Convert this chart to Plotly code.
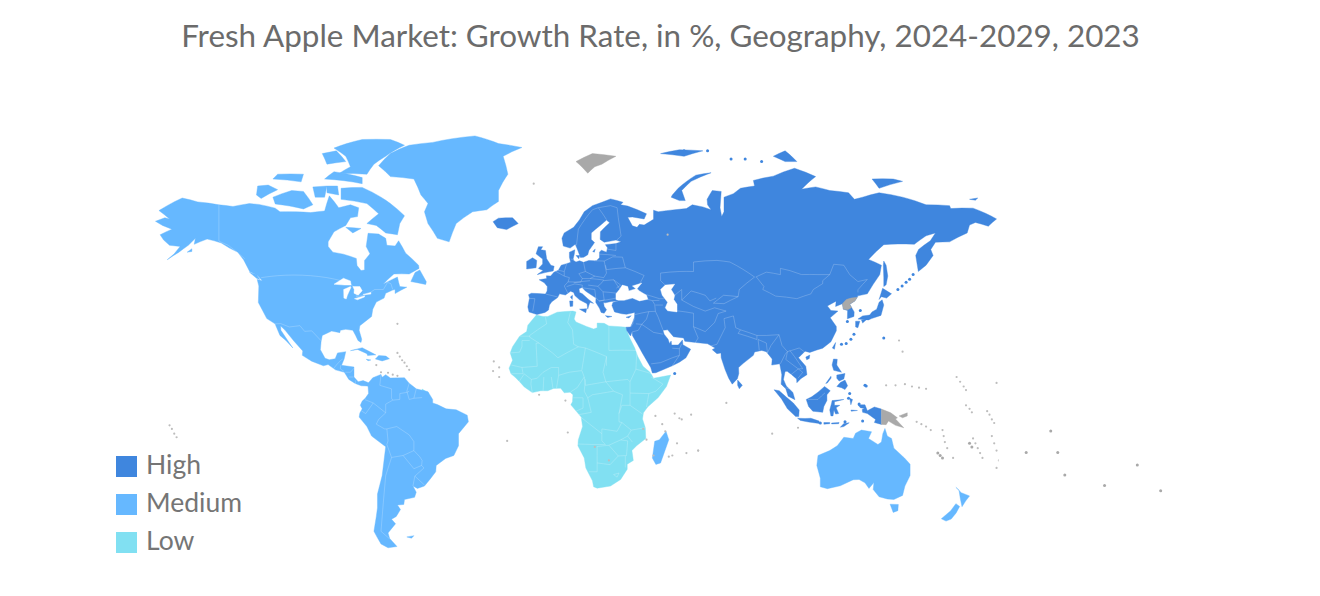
import plotly.graph_objects as go

TITLE = "Fresh Apple Market: Growth Rate, in %, Geography, 2024-2029, 2023"
legend_labels = ["High", "Medium", "Low"]
HIGH = "#3F86DE"
MEDIUM = "#66B8FF"
LOW = "#81E0F2"
NO_DATA = "#A9A9A9"
legend_colors = [HIGH, MEDIUM, LOW]

# the offline sandbox has no world topojson, so outlines are kept here as lon/lat
eurasia = [(-5.6,36),(-9,37),(-9.5,38.8),(-8.8,42),(-9.2,43.2),(-8,43.7),(-2,43.4),(-1.3,44.5),(-1.2,46),(-2.5,47.3),(-4.7,48.3),(-1.5,48.7),(-1.6,49.6),(0.2,49.5),(1.6,50.8),(3.5,51.4),(4.7,53),(7,53.5),(8.7,53.9),(8.2,55.5),(8.2,57),(10.5,57.7),(10.3,56.5),(9.8,55),(10,54.5),(11,54),(12.5,54.4),(14.2,53.9),(16.5,54.5),(18.7,54.4),(19.8,54.5),(21,55.3),(21,57),(21.8,57.6),(24,57),(24.4,58.3),(23.5,59.2),(28,59.5),(30.2,60),(28,60.5),(23,59.9),(21.3,60.7),(21.4,62.8),(25.3,65.2),(24,65.9),(21.3,64.5),(17.5,62.5),(17.5,60.7),(18.9,59.8),(16.5,57.5),(16,56.2),(14.3,55.5),(12.9,55.4),(11.5,58),(10.7,59.3),(8.5,58.2),(5.6,58.8),(5,61),(6,62.5),(10,64),(12.5,66),(14.5,68),(18,69.5),(22,70.3),(25.7,71.1),(31,70.3),(30,69.7),(33,69.4),(41,67.5),(40,66.2),(35,66.7),(33,66.6),(35,64.4),(37,64),(38,64.8),(40,64.6),(44,66.1),(44,68.4),(46,68),(53,68.5),(58,68.8),(60.5,69.7),(65,69.2),(68.5,68.5),(67,69.7),(66.8,71),(69,73),(72.8,72.8),(72.3,69),(73,66.8),(74,68),(74,71.5),(78,72.3),(81,73.5),(87,74),(86.5,75.2),(95,76.1),(104,77.7),(113,76),(107,73.3),(113,73.8),(119,73),(127,72.5),(129.5,71),(133,71.5),(140,72.5),(150,71.5),(160,69.7),(170,69.5),(170.5,68.8),(180,68.9),(190,66.2),(186.5,64.3),(181,65.3),(178.5,64.6),(177.5,62.5),(170,60),(164,59.9),(162,57.8),(163,56),(160,53),(156.7,51),(155.6,56),(156.8,57.8),(161.8,60.3),(164,62.5),(160,61.7),(155,59.3),(148,59.4),(142,59.2),(135.5,54.8),(141,53),(140.3,50),(135,43.5),(131,42.8),(130.7,42.3),(129.7,41),(127.5,39.8),(129.4,37),(129.3,35.3),(126.5,34.4),(126.6,37.5),(124.8,38),(124.4,40),(121.5,39),(121.7,40.9),(118,39.2),(119.5,37.5),(122.5,37.3),(119.2,34.8),(121.8,31.5),(121.8,29.8),(119.5,25.5),(116,22.9),(113.5,22.2),(110.5,21.2),(108.5,21.7),(105.7,19),(108.8,15.5),(109.3,12),(106.8,10.4),(105,8.6),(104.9,10.2),(102.8,12),(100.9,13.4),(100,13.3),(99.3,10),(100.5,7.2),(103.3,4.5),(104.2,1.4),(101.3,2.9),(100.3,6),(98.3,8),(98.6,12),(97.7,16.5),(94.3,16),(94.5,18.5),(92,21.5),(90,22),(87,21.4),(86.5,20),(82.2,16.7),(80.2,15),(80.3,12.5),(79.7,10.3),(77.5,8),(76,10.5),(74.5,14),(72.8,19),(72.7,21),(71,20.7),(69,22.3),(70.2,23),(67,24.7),(62,25.2),(57.3,25.7),(56.8,27),(52.5,27.5),(50,30.2),(48,30),(48.5,28.5),(50.2,26.5),(50.8,24.8),(51.5,25.8),(51.7,24.2),(54.5,24.2),(56.3,26.2),(56.5,24.3),(59.8,22.5),(57.8,19),(55,17.2),(52,15.7),(45,12.8),(43.5,12.7),(42.8,15),(39.2,21),(35,28),(34.9,29.5),(34.2,27.8),(32.6,29.9),(32.3,31.2),(34.2,31.3),(35,32.8),(35.9,35),(36,36.8),(32.5,36.1),(30.5,36.3),(27.4,37),(26.3,39.3),(26.7,40.4),(29,41),(26,40.8),(23.5,40.3),(22.7,40.4),(23,39),(24,37.8),(23,36.5),(21.7,36.8),(21,38.3),(19.4,40.5),(19.5,42),(15,44.5),(13.6,45.7),(12.3,45.3),(12.5,44),(13.7,43.5),(16,41.8),(18.5,40.1),(17,40.5),(16.5,39.5),(16,38),(15.7,40),(12.5,41.4),(10.5,42.9),(10,44),(8.7,44.4),(6.5,43.1),(4,43.5),(3.2,42.2),(0.7,40.7),(-0.3,39.5),(-0.7,37.7),(-2.2,36.8)]
great_britain = [(-5.5,50),(1.3,51.2),(1.7,52.7),(0.3,53),(-1.5,55),(-2,57.5),(-4,57.7),(-3.2,58.6),(-5,58.6),(-6,56.5),(-3.2,54.9),(-3.2,53.4),(-5,52),(-3,51.3)]
ireland = [(-6,52.2),(-10,51.8),(-10,54.2),(-7.5,55.3),(-5.7,54.5)]
iceland = [(-22.5,63.9),(-24.3,65.5),(-22,66.4),(-16,66.5),(-13.6,65),(-18.5,63.4)]
sicily = [(12.5,38),(15.5,38.2),(15.2,36.7)]
sardinia = [(8.3,41),(9.7,41),(9.6,39.1),(8.5,39)]
corsica = [(8.6,42.4),(9.5,43),(9.4,41.5)]
crete = [(23.5,35.6),(26.3,35.3),(24.5,34.9)]
cyprus = [(32.3,35),(34.5,35.6),(33.5,34.7)]
zealand = [(11,56),(12.6,56),(12.2,55)]
gotland = [(18.1,57.2),(19.2,57.9),(18.8,57)]
novaya_zemlya = [(51.5,71.5),(55,70.7),(57.5,70.7),(56,73),(60,75),(68.5,76.8),(62,76.3),(54.5,73.5),(52,72)]
severnaya = [(95,80),(100,79),(105,79),(100,81)]
franz_josef = [(47,80.5),(55,81.2),(65,81),(57,80)]
new_siberian = [(137,75.5),(146,75.5),(150,75),(140,73.5)]
wrangel = [(178.5,71),(182,71.3),(181,70.8)]
sakhalin = [(142,54.3),(143,53),(143.7,49.5),(143,46.6),(142,46),(142,49),(141.8,53)]
hokkaido = [(140,41.5),(141.5,45.4),(145.3,43.5),(143.2,42),(141,42.5)]
honshu = [(131,34.3),(135.5,34),(136.8,34.5),(140.8,35.7),(142,39.5),(141.3,41.4),(140,40.5),(139,38),(137,37),(136,35.8),(133,35.5)]
kyushu = [(130,33.5),(131.8,33.5),(131,31),(130,31.3)]
shikoku = [(132.5,34),(134.7,34.2),(133,32.8)]
taiwan = [(121.5,25.2),(121,22.5),(120.1,23)]
hainan = [(108.8,19.3),(110.5,20.1),(110.3,18.7),(109.2,18.2)]
sri_lanka = [(79.8,9.7),(81.8,7.5),(80.5,6),(79.8,7.5)]
sumatra = [(95.3,5.6),(97.5,5.2),(100.5,2.5),(103.5,0),(106,-3),(105.8,-5.8),(104.5,-5.8),(101,-2.5),(98.5,1.7)]
java = [(105.3,-6.5),(108.5,-6.6),(111,-6.5),(114.5,-7.7),(114.5,-8.7),(110,-8.1),(106.5,-7.4)]
borneo = [(109,1.5),(111.3,2.6),(114,4.6),(116.8,7),(119.2,5.2),(117.8,3.5),(117.8,1),(116.5,-1.5),(116,-4),(111.8,-3.5),(110,-1.5)]
sulawesi = [(120,1),(125,1.5),(121,0.5),(121,-1),(123.3,-1),(121.7,-2),(122.8,-4.5),(121.5,-4.7),(120.8,-3),(120.4,-5.5),(119.5,-5.5),(119,-3),(119.8,0)]
luzon = [(120.6,18.5),(122.2,18.4),(122,16),(124,13),(120.7,13.8),(120,16)]
mindanao = [(122,7),(123.5,8.7),(125.5,9.7),(126.6,7.3),(125.5,5.7),(124,6.5)]
visayas = [(122,11.8),(125.5,12.5),(125,10.2),(123,9.3),(122,10.5)]
palawan = [(117.3,8.3),(119.5,11.3),(119.6,10.6),(118,8.5)]
halmahera = [(127.5,2),(128.7,1.5),(128,-0.8)]
timor = [(123.5,-10.3),(125,-8.7),(127.3,-8.4),(125,-10)]
flores = [(119.8,-8.5),(123,-8.3),(122.8,-8.8),(119.8,-8.9)]
sumbawa = [(116.5,-8.3),(119,-8.3),(119,-8.8),(116.5,-9)]
seram = [(128,-3),(130.8,-3.2),(128.2,-3.5)]
west_papua = [(131,-0.8),(134,-0.8),(135,-3.3),(138,-1.7),(141,-2.6),(141,-9.1),(138,-8.3),(138.5,-7),(135,-4.5),(133,-4),(132.8,-2.8),(133.8,-2.4),(132,-2)]

north_america = [(-168,65.6),(-164,66.5),(-162,66.2),(-166.5,68.3),(-163,69.5),(-156.6,71.3),(-150,70.4),(-141,69.7),(-135,69.3),(-128,70),(-124,69.8),(-117,68.9),(-115,68),(-108,68),(-102,67.8),(-96,68.2),(-94,71.8),(-90,69),(-85,69.7),(-81.5,69),(-82,66.8),(-85,66.5),(-87,64.5),(-92,62.8),(-94.5,60),(-94.5,58.7),(-92.5,57),(-88,56.4),(-82.5,55.1),(-82.2,52.9),(-80.5,51.3),(-79,51.5),(-79,54.5),(-76.7,56.5),(-78.3,58.7),(-77.5,62.4),(-73,62.2),(-70,61),(-69.5,59),(-66,58.8),(-64.5,60.3),(-61.5,56.7),(-56,53),(-55.8,52),(-60,50.2),(-66.5,50.2),(-69,48.5),(-71,46.9),(-65,49.2),(-64.5,47.5),(-64,46),(-61,45.8),(-66,43.6),(-66,45),(-67,44.8),(-70,43.7),(-70.7,42),(-74,40.6),(-75.5,38),(-76,35.3),(-78,33.9),(-81,31.8),(-81.3,30),(-80.2,26.5),(-80.5,25.2),(-81.8,26),(-82.8,28),(-84,30),(-87,30.4),(-89.3,30),(-89.5,29.1),(-93,29.7),(-97,28),(-97.5,25.5),(-97.8,22.3),(-95.8,18.8),(-94,18.2),(-91.5,18.6),(-90.5,21),(-87,21.5),(-87.7,18.5),(-88.8,15.9),(-83.5,15.2),(-83.5,11),(-81.7,9),(-79.6,9.5),(-77.3,8.6),(-77.9,7.2),(-80.4,7.3),(-83,8.3),(-85.7,10),(-87.6,13),(-91.4,14),(-94.5,16.2),(-96.5,15.7),(-101.5,17.6),(-105.5,20),(-105.3,21.8),(-109,25.7),(-112.8,30),(-114.7,31.7),(-114.6,30),(-111,25),(-109.5,23),(-112.5,26),(-115,28),(-117.1,32.5),(-120.6,34.5),(-122.4,37.5),(-124.2,40.4),(-124,46.2),(-124.7,48.4),(-122.5,48),(-125,50),(-127.9,51),(-130.5,54.7),(-133,57),(-136.5,58.2),(-140,59.7),(-146,60.8),(-151.5,59.3),(-151,61),(-154,59),(-158,57),(-163,54.7),(-160,56.5),(-157.5,58.7),(-162,59),(-164.5,60.5),(-166,62),(-161,63.5),(-165,64.5)]
greenland = [(-73,78.2),(-68,80.5),(-60,82),(-50,82.5),(-32,83.6),(-22,82.3),(-12,81.6),(-20,80),(-18,76.5),(-22,73),(-22,70.5),(-27,68.5),(-33,68),(-40,65),(-43,60),(-48,61),(-52,65),(-53.5,68),(-52,70),(-55,72),(-58,75.5),(-68,76)]
baffin = [(-80,73.7),(-72,71.5),(-68,70),(-62,67),(-64,65),(-65,62),(-70,62.5),(-74,64.5),(-78,65),(-73,67.5),(-78,70),(-89,71),(-89,73.5)]
victoria = [(-117,69.9),(-105,68.7),(-101,69.7),(-105,72.8),(-110,73),(-118,71.5)]
banks = [(-125,72),(-123,71.2),(-116,73.2),(-120,74.2),(-124.5,74)]
melville = [(-118,75.5),(-106,74.9),(-105,76.5),(-116,76.5)]
prince_wales = [(-100,71.5),(-96,71.5),(-95,74),(-101,73.8)]
somerset = [(-95,72.5),(-90,72),(-90.5,74),(-95,74)]
devon = [(-96,75.5),(-80,74.5),(-80,75.8),(-92,77)]
ellesmere = [(-90,76.6),(-78,76.5),(-75,78.5),(-70,80),(-62,82),(-68,83),(-80,83),(-92,81.5),(-87,80),(-85,78)]
axel = [(-95,78.5),(-87,79),(-91,81),(-97,80.5)]
southampton = [(-87,64),(-80.5,63.7),(-84,62.5)]
newfoundland = [(-59.3,47.7),(-53,46.7),(-52.7,47.6),(-55.5,51.5),(-57.5,50.7)]
vancouver = [(-128,50.8),(-125,48.8),(-123.5,48.4),(-125,50)]
kodiak = [(-154.5,57),(-152.5,58),(-152.5,57.2)]
cuba = [(-85,21.9),(-80,23.1),(-74.2,20.2),(-77.7,19.9),(-78,20.7),(-82,22.4)]
hispaniola = [(-74.4,18.5),(-73,19.9),(-69.9,19.7),(-68.4,18.6),(-71.5,17.7)]
jamaica = [(-78.3,18.4),(-76.3,18.1),(-77.5,17.8)]
south_america = [(-77.3,8.6),(-75.5,10.7),(-72,12.1),(-71.5,10.9),(-70,12),(-68,10.6),(-62,10.7),(-60,8.4),(-57,6),(-52,4.8),(-50,1.5),(-50,0),(-48,-0.7),(-44.3,-2.5),(-40,-2.9),(-35.3,-5.2),(-34.8,-8),(-39,-13),(-39,-18),(-41,-22),(-44.5,-23.2),(-48.5,-26),(-48.7,-28.5),(-53.5,-34),(-56.5,-34.9),(-58.4,-34),(-57,-36.3),(-57.7,-38.2),(-62,-39),(-62.3,-40.8),(-65,-41),(-63.7,-42.6),(-65.5,-45),(-67.5,-46),(-65.8,-47.5),(-69,-50.5),(-68.3,-52.3),(-65.2,-54.8),(-69,-55.2),(-72,-54),(-75,-50),(-74,-45),(-73.5,-42),(-73.5,-37),(-71.5,-30),(-70,-18.4),(-76,-14),(-78,-10),(-81.3,-6),(-81,-4.3),(-80,-2.5),(-80.8,-1),(-80,0.8),(-78.7,2),(-77.3,4),(-77.5,7),(-77.9,7.2)]
falklands = [(-61,-51.8),(-58,-51.4),(-59,-52.2)]
australia = [(114,-22),(113.5,-26),(115,-31),(115,-34.3),(118,-35),(123.5,-33.9),(129,-31.6),(131.5,-31.5),(134,-32.8),(135.7,-34.9),(137.8,-32.7),(137.5,-35.3),(140,-38),(143.5,-38.8),(146.3,-39),(150,-37.5),(151,-34),(153.2,-30),(153.2,-25.5),(150.8,-23),(146.3,-19),(145.3,-15),(143.5,-14),(142.5,-10.8),(141.6,-13),(141,-16.5),(139.5,-17.5),(135.5,-15),(136.8,-12.2),(132.5,-11.5),(130,-12.8),(129,-15),(125,-14.5),(122.2,-18),(119,-20)]
tasmania = [(144.7,-40.7),(148.2,-40.8),(148,-43),(146,-43.6)]
nz_north = [(172.7,-34.5),(175,-36.5),(178.5,-37.7),(176.9,-39.5),(175.3,-41.6),(174.6,-38.8),(174,-35.5)]
nz_south = [(172.7,-40.5),(174.3,-41.5),(172.8,-43.8),(170.7,-45.9),(168.5,-46.6),(166.5,-45.8),(170.5,-43)]
madagascar = [(49.3,-12),(50.5,-15.5),(47,-25),(45,-25.6),(43.5,-23),(44.5,-16.2),(46.5,-15.5)]

africa = [(-5.9,35.8),(-9.5,32),(-10,29.5),(-13,27.7),(-16,23.5),(-17,21),(-16,18),(-17.5,14.7),(-16.7,12.4),(-15,11),(-13,9),(-11,6.8),(-7.6,4.4),(-4,5.2),(-1,5.2),(1.5,6.2),(4.5,6.3),(6,4.3),(8.5,4.6),(9.7,3.5),(9.5,0.5),(8.8,-0.8),(11.5,-4),(13.2,-6),(13.8,-10),(12,-15.5),(11.8,-18),(14.5,-23),(15.2,-27),(18,-32),(18.5,-34.3),(20,-34.8),(25.7,-34),(30,-31.5),(32.8,-27.5),(32.8,-25.5),(35.4,-24),(34.8,-20),(36.8,-18),(40.7,-15),(40.5,-10.5),(39.3,-6.8),(39.7,-4.2),(41.5,-1.7),(46,2.3),(49.5,7),(51.3,11.8),(44,10.5),(43.3,11.7),(42.5,13),(39.5,15.5),(37.3,19.5),(36,23),(34,26.8),(32.6,29.9),(32.3,31.2),(30,31.4),(25,31.7),(23,32.7),(20,32.8),(20,31),(18.5,30.5),(15.5,31.5),(11,33.2),(10.2,34.3),(11,37),(9.7,37.3),(3,36.9),(-1,35.3),(-3,35.3)]
french_guiana = [(-54.5,5.9),(-51.7,4.2),(-52.8,2.3),(-54.5,2.3)]

north_korea = [(124.4,40),(126,41.5),(128,42),(130.7,42.3),(129.7,41),(127.5,39.8),(128.3,38.6),(126.7,37.8),(124.8,38)]
papua_new_guinea = [(141,-2.6),(145,-4.2),(147.8,-6.3),(147,-6.8),(150.5,-10.5),(147,-9.5),(144,-7.7),(143,-9.2),(141,-9.1)]
new_britain = [(148.5,-5.5),(152,-4.2),(152,-5.5),(150,-6.3)]
svalbard = [(11,79),(16,76.7),(19,78),(22,78.5),(28,80),(18,80.5)]

great_lakes_sup = [(-92,46.8),(-88,48.8),(-85,47.9),(-84.7,46.5),(-87.5,46.5)]
great_lakes_mich = [(-87.8,42),(-87.9,45),(-85,46),(-84.8,45.7),(-86.3,43),(-86.8,41.7)]
great_lakes_huron = [(-84,46),(-81,46),(-80,44.6),(-81.7,43),(-83.5,43.7),(-83.4,45)]
great_lakes_erie = [(-83.3,41.8),(-79,42.8),(-79,42.4),(-82,41.4)]
great_lakes_ont = [(-79.7,43.3),(-76.3,44),(-76.3,43.4),(-79,43.2)]
black_sea = [(28,41.5),(29,41.2),(31.5,41.2),(35,42),(38,41),(41.6,41.6),(41,43),(38,44.5),(37,45.3),(39,47.2),(35,46.2),(36.5,45.3),(33.5,44.5),(33,46),(30.7,46.5),(29.5,45),(28,43.5)]
caspian = [(47,45),(49,46.5),(53,46.8),(51.5,45),(53,43),(52.6,41.5),(54,39.8),(54,37),(50,37.4),(49,38.5),(50,40.5),(47.7,43)]

high_land = [eurasia, great_britain, ireland, iceland, sicily, sardinia, corsica, crete, cyprus, zealand, gotland,
             novaya_zemlya, severnaya, franz_josef, new_siberian, wrangel, sakhalin, hokkaido, honshu, kyushu, shikoku,
             taiwan, hainan, sri_lanka, sumatra, java, borneo, sulawesi, luzon, mindanao, visayas, palawan, halmahera,
             timor, flores, sumbawa, seram, west_papua]
medium_land = [north_america, greenland, baffin, victoria, banks, melville, prince_wales, somerset, devon, ellesmere,
               axel, southampton, newfoundland, vancouver, kodiak, cuba, hispaniola, jamaica, south_america, falklands,
               australia, tasmania, nz_north, nz_south, madagascar]
low_land = [africa, french_guiana]
no_data_land = [north_korea, papua_new_guinea, new_britain, svalbard]
water = [great_lakes_sup, great_lakes_mich, great_lakes_huron, great_lakes_erie, great_lakes_ont, black_sea, caspian]

borders = [
    [(-123,49),(-95,49),(-89,48),(-84.5,46.5),(-82.5,45),(-82.5,42.5),(-79,43),(-76.5,44),(-74.7,45),(-71,45),(-69.2,47.4),(-67.8,47),(-67,45)],
    [(-141,69.7),(-141,60.2),(-137,59),(-130,55)],
    [(-117.1,32.5),(-114.7,32.6),(-111,31.3),(-106.5,31.8),(-104.5,29.6),(-101.5,29.8),(-97.5,25.9)],
    [(-92.2,14.5),(-91,16),(-89.2,17.9),(-88.3,18.5)], [(-89.2,15.9),(-89.3,14.4),(-87.8,13.4)], [(-83.2,15),(-85,13),(-87.2,13)],
    [(-83.7,11),(-85.7,11)], [(-82.9,9.6),(-82.9,8.1)],
    [(-72,12),(-72.5,7.5),(-67.5,6),(-67.5,2),(-67,1.2),(-70,-0.5),(-70,-4.2),(-73,-7),(-74,-9),(-70.5,-11),(-69.5,-11),(-65.3,-10),(-60,-13.5),(-58,-16.3),(-58,-20)],
    [(-69.5,-11),(-69,-16),(-69.5,-17.5),(-67.5,-22.8),(-62.6,-22),(-58,-20)],
    [(-62.6,-22),(-58,-27.3),(-54.7,-26),(-54.5,-24),(-55.5,-22.5),(-58,-20)],
    [(-54.7,-26),(-53.7,-27),(-57.6,-30.2),(-53.4,-33.7)], [(-57.6,-30.2),(-58.4,-34)],
    [(-67.5,-22.8),(-70,-30),(-71,-40),(-72,-50),(-68.5,-52.3)],
    [(-78.8,1.4),(-75.3,0),(-78.5,-4.5),(-80.3,-3.4)], [(-75.3,0),(-70,-4.2)],
    [(-60,8.4),(-61,5),(-60,1.5),(-58,2),(-54.5,2.3)], [(-67,1.2),(-64,1.5),(-64,4),(-61,4.5),(-60,5)], [(-57,6),(-58,2)],
    # Africa
    [(-2,35),(-1.5,32.5),(-8.7,28),(-8.7,27.3),(-4.8,25),(1,21),(3.3,19),(12,23.5),(10,24.5),(9.5,30.2),(7.5,33),(8.6,36.9)],
    [(-8.7,27.7),(-13,27.7)], [(-8.7,26),(-12,26),(-12,23.5),(-13,21.3),(-17,21)], [(-4.8,25),(-6,24.9),(-5.5,15.5),(-12,15),(-16.5,16)],
    [(12,23.5),(15,23),(24,19.5),(24,15.7)], [(25,31.6),(25,22),(36.9,22)], [(24,19.5),(22.5,13),(23.7,9)], [(15,23),(13.5,14)],
    [(3.6,11.7),(8,13),(13.5,13.7),(14.5,11),(11.5,6.5),(8.7,4.7)], [(2.7,6.3),(3.6,11.7)], [(1.2,6.1),(0.5,11)], [(-3,5.1),(-2.7,11)],
    [(-7.6,4.4),(-8.2,8),(-8,10),(-5.5,10.5),(-3,13),(0.5,15),(3.6,15),(3.6,11.7)], [(-13.3,9),(-11,12.3),(-8,10)], [(-12,15),(-11.5,12.4),(-16.7,12.4)],
    [(15,10),(14.5,5),(16,2.2),(18,3.5),(27,5),(30.8,3.5),(29.3,-4.5),(29.3,-8),(30.5,-8.3),(28.5,-12),(22,-11),(22,-13),(13,-6)],
    [(14.5,11),(15,7.5),(23.7,9),(27,5)], [(23.7,9),(33,10),(34,9),(34,4.2),(42,4),(41,-1.7)], [(36.9,22),(36.5,14.3),(34,9)], [(43,12.5),(36.5,14.3)],
    [(43,11),(48,8),(45,5),(42,4)], [(34,4.2),(34,-1),(39.3,-4.7)], [(34,-1),(30.5,-1),(29.3,-4.5)], [(30.5,-8.3),(34.5,-11.5),(40.5,-10.5)],
    [(16,2.2),(17.5,-4),(12,-5)], [(9.8,2.2),(14,2.2),(14,-2.2),(11,-3.5)], [(11.8,-17.3),(23.5,-17.5),(22,-16),(22,-13)],
    [(20,-22),(20,-28.5),(16.5,-28.5)], [(20,-25),(25.5,-25.7),(29,-22.2),(25,-17.8),(20,-18.3),(20,-22)], [(25,-17.8),(30,-15.6),(33,-16),(32.5,-22),(29,-22.2)],
    [(30,-15.6),(33,-14),(34.5,-11.5)], [(33,-14),(35,-16.5)], [(32,-22.2),(32,-26.8)], [(27,-29.6),(29.3,-29),(28.5,-30.6),(27,-29.6)],
    # Europe
    [(-1.8,43.4),(3.2,42.4)], [(-9,41.9),(-6.5,41.8),(-7.4,37.2)], [(2.5,51),(6,49.5),(8.2,49),(7.6,47.6),(6,46.2),(7.5,43.8)],
    [(14.2,53.9),(15,51),(12.2,50.3),(13.7,48.7),(13,47.5),(7.6,47.6)], [(8.7,54.9),(9.9,54.8)], [(6,49.5),(6,51),(7,53.4)], [(3.4,51.4),(6,51)],
    [(18.7,54.4),(23,54.3),(24,50.5),(22.8,49),(19,49.5),(15,51)], [(19,49.5),(17,48.7),(13.7,48.7)], [(17,48.7),(22.8,48.2),(22,47.3),(20.3,46.1),(16.2,46.5)],
    [(7,46),(10.5,46.9),(13.7,46.5),(13.6,45.7)], [(10,47.3),(17,48)], [(13.6,45.6),(19,45),(19.4,42.2)], [(20.3,46.1),(22.5,44.2),(23,41.3),(20.8,41),(19.4,42.2)],
    [(20.8,40.9),(26.3,41.7),(28,42)], [(22.5,44.2),(28.6,43.7)], [(29.6,45.2),(27,48.3),(22.8,48)], [(28.2,45.5),(30,46.5),(27,48.3)],
    [(24,51.6),(32,52.2),(40,49.7),(38.2,47.1)], [(23,54.3),(26.7,55.6),(30.8,55.5),(32,52.2)], [(24,51.6),(23.5,53)], [(21,56.4),(28,56)], [(24.3,57.9),(28,57.5),(28,59.5)],
    [(28.3,60.5),(30.2,61.6),(29,66.5),(28.5,69),(25.7,69.5),(20.5,69),(24,66)], [(11.2,59),(12,63.5),(18,68.5),(20.5,69)],
    # Asia
    [(47,48),(47,50.5),(55,51),(61,51),(61,54),(71,54.5),(76.5,54),(87,49.2)], [(49,46.5),(47,48)],
    [(87.5,49.2),(92,50.8),(98,50),(98,52),(102,51.3),(107,50),(114,50),(119,50),(116,48)],
    [(87.8,49.2),(91,46),(90.5,45),(96,42.7),(105,41.8),(111,43.5),(112,45),(116,47),(116,48)],
    [(119,50),(120.7,53.3),(125,53),(127.5,50),(131,47.7),(135,48.4),(131,44.9),(131,42.8)], [(87,49.2),(80.5,45),(80,42.5),(74,40),(69.5,40.2),(73.8,43),(80,42.5)],
    [(53,43),(56,45),(56,41.3),(60,44.5),(66,43),(68,41),(70.7,42)], [(54,37.4),(61,36.5),(61,35.6),(61,31.4),(66,29.5),(70,33),(71.5,36.4),(74.9,37.3),(70,38.5),(66,37.3),(61,39),(56,41.3)],
    [(61,31.4),(63,27),(61.7,25)], [(68,23.7),(71,24.5),(74.5,31),(74,34.5),(78,35.5),(79,31),(81,30.2),(88,28),(92,28),(97.4,28.3)], [(81,30.2),(80,28.8),(88,26.4),(88,28)],
    [(88.5,26.4),(89,22)], [(88.5,26.4),(92,25),(92.5,21)], [(92.5,21),(94,24),(97.4,28.3),(98.7,24),(101,21.5),(100,20.4),(98,16.5)], [(101,21.5),(106,23),(108,21.6)],
    [(101,21.5),(100.3,18.3),(105.6,14.4),(107.5,14.5),(104,19.5),(102,22)], [(102.5,12),(105.6,14.4),(107.5,13),(105.5,10.5)], [(100.2,6.5),(102,6)],
    [(36,36),(42,37.1),(44.8,37.2),(44.5,39.7),(43.5,41.1),(41.6,41.5)], [(40,43.4),(46.5,41.8),(48.6,41.8)], [(43.5,41.1),(46.5,41.2)], [(44.8,39.5),(46.5,39.5),(48,39.5)],
    [(44.8,37.2),(46,35),(48,30.2)], [(42,37.1),(41,34.3),(39,32.3),(36.5,32.5)], [(35,29.4),(37.5,30),(39,32.3),(44,29.2),(48,28.5)],
    [(43,16.5),(47,17),(52,19),(55,20),(52,15.7)], [(52,22.9),(55,22.7),(56,24.7)], [(55,20),(55,22.7)], [(34.3,31.3),(35.5,33)], [(35.2,33.1),(36,34.6)],
    [(117,4.3),(115.5,3),(114,1.5),(109.7,1.5)],
]

# islands too small for an outline
blue_islet_lon = [148, 149.8, 151.5, 153, 154.5, 126.5, 128, 129.3, 124, 126, 131, 132, 57, 67, 77, 83, 90, 53, 142, 134, 127.5, 134.5, 127, 115, 131.5, 133, 125.5]
blue_islet_lat = [45, 46.2, 47.5, 48.5, 50, 33.4, 26.5, 28.5, 24.5, 24.8, 43.5, 37.5, 81, 81, 79.5, 79.5, 79, 12.5, 27, 7.5, 4, 7.2, 2, -8.5, -0.4, -7.7, -8]
grey_islet_lon = [143,147,151,154,157,160,173,174.5,176,177,177,178.5,179.5,186,187,188,189,190,198,199,200,201,156,158,160,162,167,167.5,168,169,171.5,
                  180,181,182,183,184,188,189,190,191,190,148.5,150,75,105.5,94.5,63,
                  -65,-64,-63,-62,-61,-60,-74,-72,-69,-67,-65,-65,-24,-24.3,-21.7,-21.7,-18.3,-4.7,6.5,7.5,44,39.6,47.7,53,55,44.8,49,56,60,54,58,52,63,41,50,-7,19,50.5,25,33]
grey_islet_lat = [7.5,7.5,8,7,6.5,6,11,9,7,5.5,-1,-2.5,-4,-3.5,-5,-7,-8.5,8.5,-9.5,-11,-13,-14.5,-8,-9,-10,-11.5,-11.5,-14,-16.5,-19,-23,
                  -15,-17,-19,-21,-23,-14,-17,-20,-24,-27,26,21.5,0,-10.5,-13,-20,
                  21,19.5,18,17,15.5,14,16,13,12.8,12,11.5,32.5,17.5,13.5,15,11,-16,3.5,1,-12.5,-22,-11,-9,-4.5,-6.5,-5.5,-12,-7,-5,-17,-21,-22,-20,-15.5,62,74.5,-18.5,-22.5,-24]
grey_big_lon = [165,166,167,178.5,179.5]
grey_big_lat = [-21,-22,-23,-17,-18.5]
far_islet_lon = [-147,-157.5,-144,-141,-124,-110,-100]
far_islet_lat = [-12,-21,-21,-30,-34,-26,-36]


def ring_coords(rings):
    lon, lat = [], []
    for ring in rings:
        closed = ring + [ring[0]]
        # keep every ring clockwise so a filled ring never covers the globe
        area = sum((closed[k + 1][0] - closed[k][0]) * (closed[k + 1][1] + closed[k][1]) for k in range(len(ring)))
        if area < 0:
            closed = closed[::-1]
        lon += [p[0] for p in closed] + [None]
        lat += [p[1] for p in closed] + [None]
    return lon, lat


fig = go.Figure()

for rings, color in [(low_land, LOW), (medium_land, MEDIUM), (high_land, HIGH), (water, "#FFFFFF"), (no_data_land, NO_DATA)]:
    ring_lon, ring_lat = ring_coords(rings)
    fig.add_trace(go.Scattergeo(lon=ring_lon, lat=ring_lat, mode="lines", fill="toself", fillcolor=color,
                                line=dict(color=color, width=0.4), hoverinfo="skip"))

border_lon, border_lat = [], []
for line in borders:
    border_lon += [p[0] for p in line] + [None]
    border_lat += [p[1] for p in line] + [None]
fig.add_trace(go.Scattergeo(lon=border_lon, lat=border_lat, mode="lines",
                            line=dict(color="rgba(255,255,255,0.3)", width=0.7), hoverinfo="skip"))

fig.add_trace(go.Scattergeo(lon=blue_islet_lon, lat=blue_islet_lat, mode="markers",
                            marker=dict(color=HIGH, size=3, line_width=0), hoverinfo="skip"))
fig.add_trace(go.Scattergeo(lon=grey_islet_lon, lat=grey_islet_lat, mode="markers",
                            marker=dict(color="#BDBDBD", size=2.2, line_width=0), hoverinfo="skip"))
fig.add_trace(go.Scattergeo(lon=grey_big_lon, lat=grey_big_lat, mode="markers",
                            marker=dict(color=NO_DATA, size=3, line_width=0), hoverinfo="skip"))
fig.add_trace(go.Scattergeo(lon=far_islet_lon, lat=far_islet_lat, mode="markers", geo="geo2",
                            marker=dict(color=NO_DATA, size=3, line_width=0), hoverinfo="skip"))

# body of the page has an 8px margin
def px_x(v):
    return (v - 8) / 1320


def px_y(v):
    return 1 - (v - 8) / 596


plain_geo = dict(
    showframe=False, showcoastlines=False, showcountries=False, showland=False, showocean=False,
    showlakes=False, showrivers=False, showsubunits=False, bgcolor="rgba(0,0,0,0)",
    lonaxis_showgrid=False, lataxis_showgrid=False,
)

fig.update_layout(
    # taller than the land: a full 360 degree range makes the fit count the pole too
    geo=dict(projection_type="miller", projection_rotation_lon=11,
             center=dict(lon=11, lat=24.6),
             lonaxis_range=[-168.9, 190.9], lataxis_range=[-57, 84],
             domain=dict(x=[px_x(106), px_x(1046)], y=[px_y(574.5), px_y(113.5)]), **plain_geo),
    geo2=dict(projection_type="miller",
              center=dict(lat=24.6),
              lonaxis_range=[-169, -94], lataxis_range=[-57, 84],
              domain=dict(x=[px_x(999), px_x(1175)], y=[px_y(554), px_y(134)]), **plain_geo),
)

# legend, drawn by hand
for i, (label, color) in enumerate(zip(legend_labels, legend_colors)):
    top = 456 + i * 38
    fig.add_shape(type="rect", xref="paper", yref="paper",
                  x0=px_x(116), x1=px_x(137), y0=px_y(top + 21), y1=px_y(top),
                  fillcolor=color, line_width=0)
    fig.add_annotation(xref="paper", yref="paper", x=px_x(143.5), y=px_y(top + 7.5),
                       text=label, showarrow=False, xanchor="left", yanchor="middle",
                       font=dict(family="Lato", size=26.5, color="#757575"))

fig.update_layout(
    title=dict(text=TITLE, x=px_x(660.5), xanchor="center", y=px_y(36), yanchor="middle",
               font=dict(family="Lato", size=31.4, color="#6B6B6B")),
    width=1320,
    height=596,
    margin=dict(l=0, r=0, t=0, b=0),
    paper_bgcolor="#FFFFFF",
    showlegend=False,
)

fig.write_html("out.html")
